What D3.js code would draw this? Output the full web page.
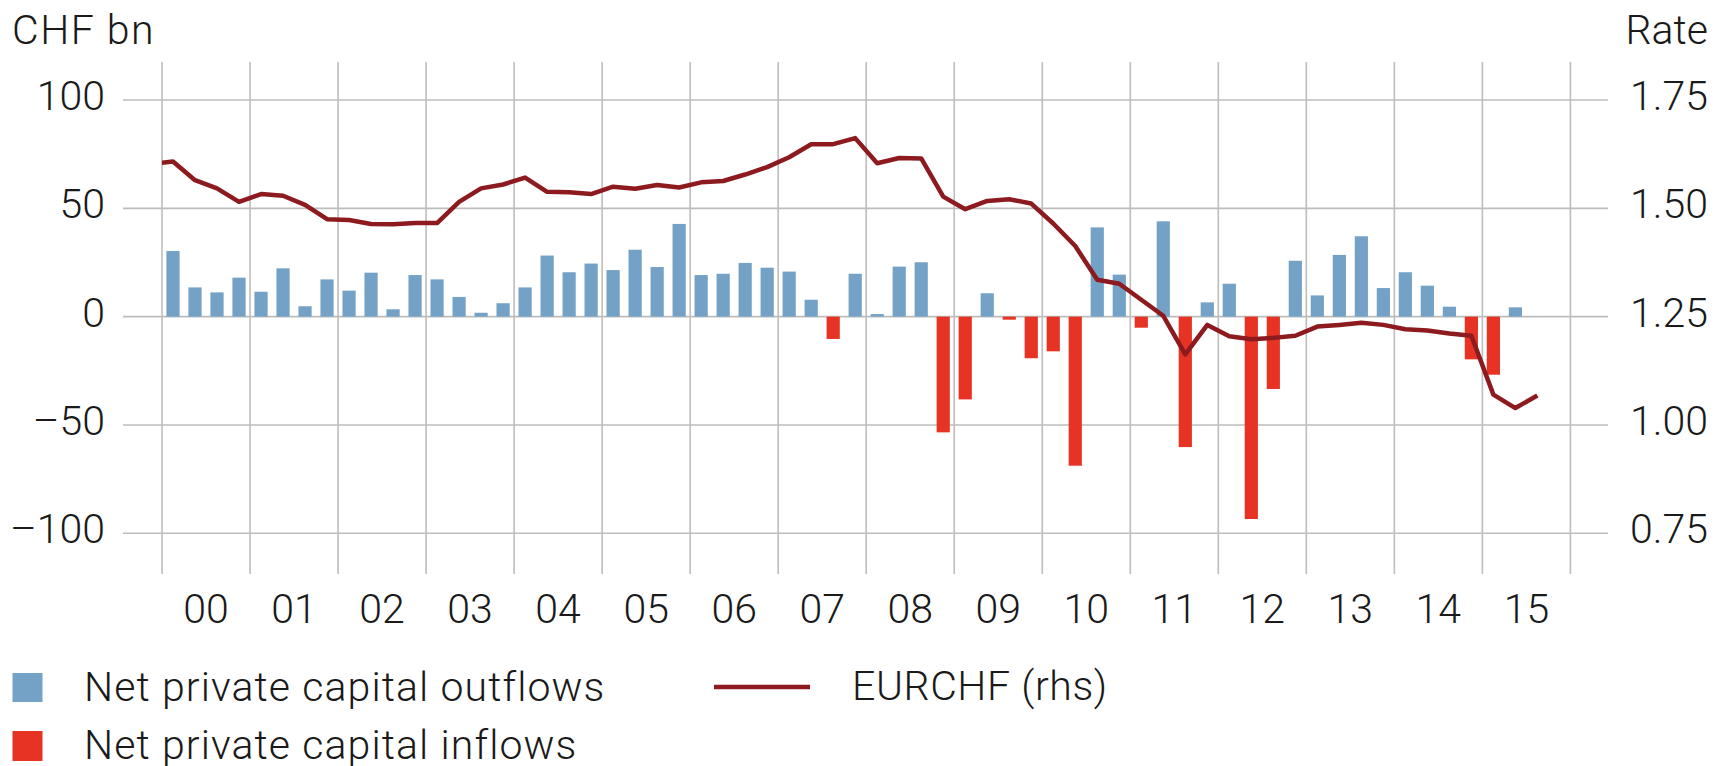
<!DOCTYPE html>
<html>
<head>
<meta charset="utf-8">
<script src="https://cdn.jsdelivr.net/npm/d3@7"></script>
<style>
  html, body { margin: 0; padding: 0; background: #ffffff; }
  svg { display: block; }
  text { font-family: "Roboto", "Liberation Sans", Arial, sans-serif; font-weight: 300; fill: #1a1a1a; }
</style>
</head>
<body>
<svg id="chart" width="1727" height="766"></svg>
<script>
// ---------- data ----------
const years = [2000, 2001, 2002, 2003, 2004, 2005, 2006, 2007, 2008, 2009, 2010, 2011, 2012, 2013, 2014, 2015];
const yearLabels = ["00", "01", "02", "03", "04", "05", "06", "07", "08", "09", "10", "11", "12", "13", "14", "15"];

// Quarterly net private capital flows, CHF bn (2000Q1 .. 2015Q2)
const capitalFlows = [
  30.3, 13.5, 11.2, 18.0,
  11.5, 22.3, 4.8, 17.2,
  12.0, 20.3, 3.4, 19.2,
  17.2, 9.1, 1.8, 6.2,
  13.5, 28.2, 20.5, 24.5,
  21.5, 30.9, 22.9, 42.8,
  19.2, 19.8, 24.8, 22.6,
  20.8, 7.8, -10.3, 19.8,
  1.2, 23.1, 25.1, -53.4,
  -38.2, 10.8, -1.4, -19.2,
  -16.0, -68.8, 41.2, 19.4,
  -5.1, 44.0, -60.2, 6.6,
  15.2, -93.4, -33.4, 25.8,
  9.8, 28.5, 37.1, 13.2,
  20.5, 14.3, 4.6, -19.7,
  -26.8, 4.3
];

// Quarterly EURCHF (1999Q4 .. 2015Q3)
const eurchf = [
  1.602,
  1.608, 1.565, 1.546, 1.515,
  1.533, 1.529, 1.508, 1.475,
  1.473, 1.464, 1.463, 1.466,
  1.466, 1.515, 1.546, 1.555,
  1.571, 1.538, 1.537, 1.533,
  1.550, 1.545, 1.554, 1.548,
  1.560, 1.563, 1.578, 1.595,
  1.618, 1.648, 1.648, 1.662,
  1.604, 1.616, 1.615, 1.527,
  1.498, 1.517, 1.521, 1.511,
  1.465, 1.413, 1.335, 1.326,
  1.289, 1.252, 1.163, 1.231,
  1.205, 1.198, 1.201, 1.206,
  1.227, 1.231, 1.236, 1.231,
  1.221, 1.218, 1.211, 1.206,
  1.070, 1.039, 1.068
];
const eurchfStart = 1999.75; // first quarter of the EURCHF series

const leftTicks = [-100, -50, 0, 50, 100];
const leftTickLabels = ["\u2013100", "\u201350", "0", "50", "100"];
const rightTicks = [0.75, 1.00, 1.25, 1.50, 1.75];
const rightTickLabels = ["0.75", "1.00", "1.25", "1.50", "1.75"];

const seriesNames = ["Net private capital outflows", "Net private capital inflows", "EURCHF (rhs)"];

// ---------- styles ----------
const colBlue = "#74a2c7";
const colRed = "#e63324";
const colLine = "#8c1a1e";
const colGrid = "#bdbdbd";

const svg = d3.select("#chart");

const x = d3.scaleLinear().domain([2000, 2016]).range([162, 1570.4]);
const yL = d3.scaleLinear().domain([-100, 100]).range([533.3, 100]);
const yR = d3.scaleLinear().domain([0.75, 1.75]).range([533.3, 100]);

const gridLeft = 123, gridRight = 1608, vTop = 62, vBottom = 574;

// horizontal grid
svg.append("g").selectAll("line").data(leftTicks).join("line")
  .attr("x1", gridLeft).attr("x2", gridRight)
  .attr("y1", d => yL(d)).attr("y2", d => yL(d))
  .attr("stroke", colGrid).attr("stroke-width", 1.6);

// vertical grid
const yearBounds = years.concat([years[years.length - 1] + 1]);
svg.append("g").selectAll("line").data(yearBounds).join("line")
  .attr("x1", d => x(d)).attr("x2", d => x(d))
  .attr("y1", vTop).attr("y2", vBottom)
  .attr("stroke", colGrid).attr("stroke-width", 1.6);

// bars
const qw = x(2000.25) - x(2000);
const barW = qw * 0.6;
const barData = capitalFlows.map((v, i) => ({ t: 2000 + i / 4 + 0.125, v }));
svg.append("g").selectAll("rect").data(barData).join("rect")
  .attr("x", d => x(d.t) - barW / 2)
  .attr("width", barW)
  .attr("y", d => yL(Math.max(0, d.v)))
  .attr("height", d => Math.abs(yL(d.v) - yL(0)))
  .attr("fill", d => d.v >= 0 ? colBlue : colRed);

// line
svg.append("clipPath").attr("id", "clip").append("rect")
  .attr("x", x(2000)).attr("y", 0).attr("width", gridRight - x(2000)).attr("height", 766);
const lineData = eurchf.map((v, i) => ({ t: eurchfStart + i / 4 + 0.125, v }));
svg.append("path").datum(lineData)
  .attr("clip-path", "url(#clip)")
  .attr("fill", "none").attr("stroke", colLine).attr("stroke-width", 4.5)
  .attr("stroke-linejoin", "round")
  .attr("d", d3.line().x(d => x(d.t)).y(d => yR(d.v)));

// axis labels
const fs = 41;
svg.append("g").selectAll("text").data(leftTicks).join("text")
  .attr("x", 105).attr("y", d => yL(d) + 10)
  .attr("text-anchor", "end").attr("font-size", fs)
  .text((d, i) => leftTickLabels[i]);

svg.append("g").selectAll("text").data(rightTicks).join("text")
  .attr("x", 1708).attr("y", d => yR(d) + 10)
  .attr("text-anchor", "end").attr("font-size", fs)
  .text((d, i) => rightTickLabels[i]);

svg.append("g").selectAll("text").data(years).join("text")
  .attr("x", d => x(d + 0.5)).attr("y", 623)
  .attr("text-anchor", "middle").attr("font-size", fs)
  .text((d, i) => yearLabels[i]);

svg.append("text").attr("x", 12).attr("y", 44).attr("font-size", fs).attr("letter-spacing", 1.5).text("CHF bn");
svg.append("text").attr("x", 1708).attr("y", 44).attr("text-anchor", "end").attr("font-size", fs).text("Rate");

// legend
svg.append("rect").attr("x", 12.5).attr("y", 673).attr("width", 30).attr("height", 29).attr("fill", colBlue);
svg.append("text").attr("x", 84).attr("y", 701).attr("font-size", fs).attr("letter-spacing", 1.1).text(seriesNames[0]);
svg.append("rect").attr("x", 12.5).attr("y", 731).attr("width", 30).attr("height", 30).attr("fill", colRed);
svg.append("text").attr("x", 84).attr("y", 759).attr("font-size", fs).attr("letter-spacing", 1.1).text(seriesNames[1]);
svg.append("line").attr("x1", 714).attr("x2", 810).attr("y1", 687).attr("y2", 687)
  .attr("stroke", colLine).attr("stroke-width", 4.5);
svg.append("text").attr("x", 852).attr("y", 700).attr("font-size", fs).attr("letter-spacing", 0.6).text(seriesNames[2]);
</script>
</body>
</html>
